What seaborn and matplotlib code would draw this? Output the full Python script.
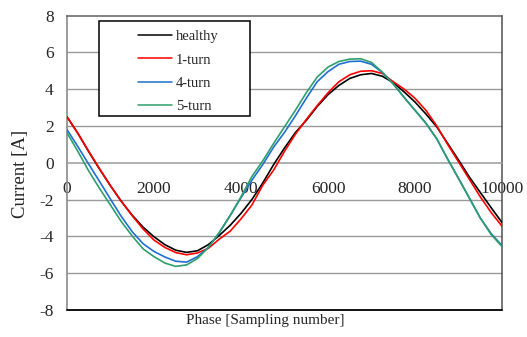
import numpy as np
import pandas as pd
import seaborn as sns
import matplotlib.pyplot as plt
from matplotlib.patches import Rectangle

# sampling positions and currents
phase = list(range(0, 10001, 250))

healthy = [2.50, 1.60, 0.60, -0.35, -1.25, -2.10, -2.85, -3.50, -4.02, -4.45,
           -4.75, -4.87, -4.78, -4.45, -3.95, -3.40, -2.75, -2.00, -1.10, -0.10,
           0.80, 1.64, 2.30, 3.05, 3.70, 4.20, 4.58, 4.78, 4.85, 4.70,
           4.35, 3.85, 3.30, 2.65, 1.95, 1.05, 0.15, -0.78, -1.61, -2.44, -3.25]
turn1 = [2.50, 1.60, 0.62, -0.33, -1.25, -2.10, -2.88, -3.60, -4.20, -4.60,
         -4.88, -5.00, -4.90, -4.65, -4.15, -3.72, -3.05, -2.30, -1.22, -0.40,
         0.62, 1.55, 2.35, 3.10, 3.80, 4.40, 4.78, 4.97, 5.00, 4.85,
         4.40, 4.00, 3.50, 2.85, 2.00, 1.00, 0.05, -0.90, -1.85, -2.70, -3.45]
turn4 = [1.80, 0.88, -0.08, -1.02, -1.98, -2.92, -3.75, -4.40, -4.82, -5.12,
         -5.35, -5.40, -5.10, -4.60, -3.80, -2.87, -1.90, -0.95, -0.10, 0.85,
         1.65, 2.55, 3.50, 4.40, 4.95, 5.35, 5.50, 5.52, 5.35, 4.90,
         4.28, 3.55, 2.85, 2.15, 1.30, 0.20, -0.85, -1.92, -3.00, -3.85, -4.50]
turn5 = [1.63, 0.62, -0.45, -1.40, -2.30, -3.20, -3.98, -4.68, -5.10, -5.45,
         -5.63, -5.55, -5.20, -4.60, -3.80, -2.87, -1.85, -0.75, 0.10, 1.05,
         1.95, 2.85, 3.80, 4.65, 5.20, 5.50, 5.63, 5.65, 5.45, 4.92,
         4.28, 3.55, 2.85, 2.15, 1.30, 0.20, -0.85, -1.92, -3.00, -3.90, -4.55]

labels = ['healthy', '1-turn', '4-turn', '5-turn']
colors = ['#000000', '#ff0000', '#1f6fd0', '#2e9e6b']

df = pd.concat([
    pd.DataFrame({'phase': phase, 'current': vals, 'case': name})
    for name, vals in zip(labels, [healthy, turn1, turn4, turn5])
])

sns.set_style('white')
plt.rcParams['font.family'] = ['Liberation Serif', 'DejaVu Serif']

fig = plt.figure(figsize=(5.27, 3.37), dpi=100)
ax = fig.add_axes([0.1271, 0.0801, 0.8255, 0.8739])

sns.lineplot(data=df, x='phase', y='current', hue='case', hue_order=labels,
             palette=dict(zip(labels, colors)), linewidth=1.2, ax=ax,
             legend=False, zorder=4)

ax.set_xlim(0, 10000)
ax.set_ylim(-8, 8)
ax.set_xticks(range(0, 10001, 2000))
ax.set_yticks(range(-8, 9, 2))
ax.set_yticklabels([str(v) for v in range(-8, 9, 2)])

for yv in range(-6, 8, 2):
    if yv != 0:
        ax.axhline(yv, color='#9a9a9a', lw=1, zorder=1)
ax.axhline(-8, color='black', lw=1.3, zorder=5, clip_on=False)

ax.spines['bottom'].set_position(('data', 0))
ax.spines['bottom'].set_color('#9a9a9a')
ax.spines['left'].set_color('#808080')
ax.spines['top'].set_color('#606060')
ax.spines['right'].set_color('#505050')
for s in ax.spines.values():
    s.set_linewidth(1.1)

ax.tick_params(axis='x', direction='inout', length=6.5, width=1,
               color='#9a9a9a', labelsize=12.5, pad=10)
ax.tick_params(axis='y', length=0, labelsize=12.5, pad=9.5)

ax.set_xlabel('Phase [Sampling number]', fontsize=11)
ax.xaxis.set_label_coords(0.455, -0.012)
ax.set_ylabel('Current [A]', fontsize=13.5)
ax.yaxis.set_label_coords(-0.087, 0.463)

# legend box
ax.add_patch(Rectangle((0.0736, 0.66), 0.347, 0.3206, transform=ax.transAxes,
                       facecolor='white', edgecolor='black', lw=1.1, zorder=6))
handles = [plt.Line2D([], [], color=c, lw=1.1) for c in colors]
leg = ax.legend(handles, labels, loc='upper left', bbox_to_anchor=(0.163, 0.950),
                frameon=False, borderpad=0, borderaxespad=0, fontsize=10.5,
                handlelength=2.33, handletextpad=0.27, labelspacing=0.68)
leg.set_zorder(7)

fig.savefig('out.png', dpi=100)
